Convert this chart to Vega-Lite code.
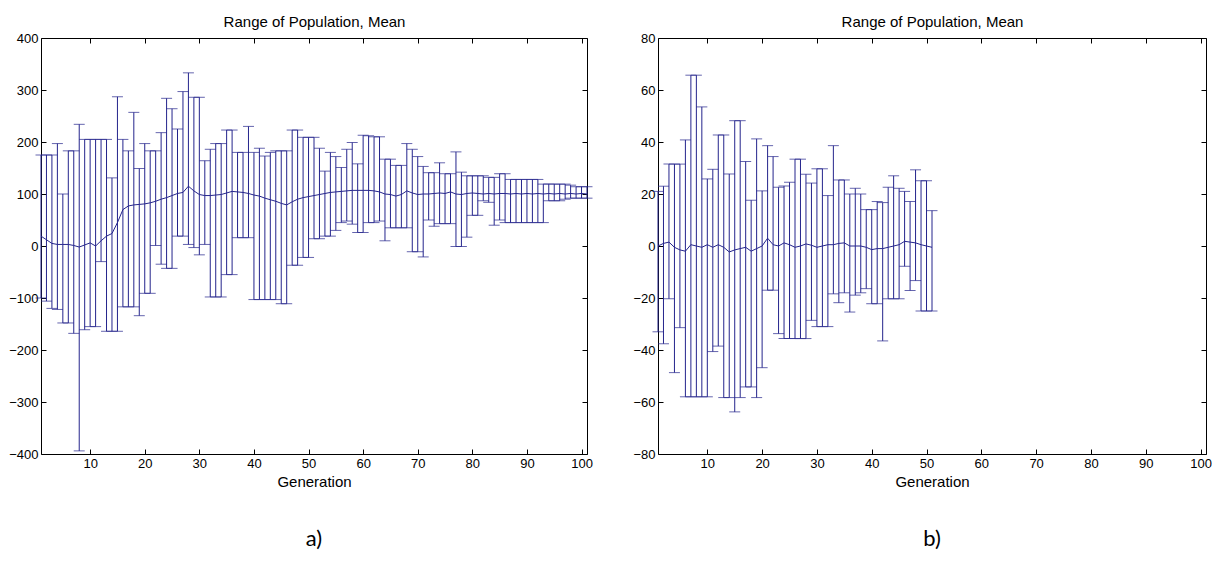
{
  "$schema": "https://vega.github.io/schema/vega-lite/v6.json",
  "background": "white",
  "padding": {"left": 8, "top": 14, "right": 0, "bottom": 5},
  "config": {
    "view": {"stroke": null},
    "axis": {"grid": false, "domainColor": "black", "tickColor": "black", "labelColor": "black", "titleColor": "black", "labelFont": "Liberation Sans", "titleFont": "Liberation Sans", "labelFontSize": 13, "titleFontSize": 15, "titleFontWeight": "normal", "tickSize": -5, "labelPadding": 8, "domainWidth": 1, "tickWidth": 1, "labelAngle": 0},
    "title": {"font": "Lato", "fontSize": 22, "fontWeight": "normal", "color": "black"}
  },
  "datasets": {
    "a": [
      {"g":1,"m":19,"lo":-100,"hi":175},{"g":2,"m":12,"lo":-106,"hi":175},{"g":3,"m":5,"lo":-120,"hi":175},{"g":4,"m":3,"lo":-122,"hi":197},{"g":5,"m":3,"lo":-148,"hi":100},
      {"g":6,"m":3,"lo":-148,"hi":183},{"g":7,"m":1,"lo":-168,"hi":183},{"g":8,"m":-2,"lo":-394,"hi":234},{"g":9,"m":2,"lo":-161,"hi":205},{"g":10,"m":6,"lo":-155,"hi":205},
      {"g":11,"m":0,"lo":-155,"hi":205},{"g":12,"m":10,"lo":-30,"hi":205},{"g":13,"m":19,"lo":-164,"hi":205},{"g":14,"m":24,"lo":-164,"hi":131},{"g":15,"m":45,"lo":-164,"hi":287},
      {"g":16,"m":70,"lo":-117,"hi":205},{"g":17,"m":77,"lo":-117,"hi":183},{"g":18,"m":79,"lo":-117,"hi":257},{"g":19,"m":80,"lo":-134,"hi":149},{"g":20,"m":81,"lo":-91,"hi":197},
      {"g":21,"m":83,"lo":-91,"hi":183},{"g":22,"m":86,"lo":1,"hi":183},{"g":23,"m":90,"lo":-35,"hi":218},{"g":24,"m":93,"lo":-43,"hi":284},{"g":25,"m":97,"lo":-43,"hi":264},
      {"g":26,"m":101,"lo":19,"hi":225},{"g":27,"m":103,"lo":19,"hi":297},{"g":28,"m":115,"lo":3,"hi":333},{"g":29,"m":106,"lo":-3,"hi":286},{"g":30,"m":99,"lo":-17,"hi":286},
      {"g":31,"m":97,"lo":3,"hi":164},{"g":32,"m":97,"lo":-98,"hi":186},{"g":33,"m":98,"lo":-98,"hi":197},{"g":34,"m":99,"lo":-98,"hi":197},{"g":35,"m":102,"lo":-55,"hi":223},
      {"g":36,"m":105,"lo":-55,"hi":223},{"g":37,"m":104,"lo":16,"hi":180},{"g":38,"m":103,"lo":16,"hi":180},{"g":39,"m":101,"lo":16,"hi":230},{"g":40,"m":98,"lo":-103,"hi":180},
      {"g":41,"m":96,"lo":-103,"hi":188},{"g":42,"m":92,"lo":-103,"hi":173},{"g":43,"m":89,"lo":-103,"hi":180},{"g":44,"m":86,"lo":-103,"hi":183},{"g":45,"m":82,"lo":-111,"hi":183},
      {"g":46,"m":79,"lo":-111,"hi":183},{"g":47,"m":85,"lo":-37,"hi":223},{"g":48,"m":90,"lo":-37,"hi":223},{"g":49,"m":93,"lo":-22,"hi":209},{"g":50,"m":95,"lo":-22,"hi":209},
      {"g":51,"m":97,"lo":14,"hi":209},{"g":52,"m":99,"lo":14,"hi":188},{"g":53,"m":101,"lo":19,"hi":144},{"g":54,"m":103,"lo":19,"hi":180},{"g":55,"m":104,"lo":30,"hi":172},
      {"g":56,"m":105,"lo":45,"hi":151},{"g":57,"m":106,"lo":48,"hi":186},{"g":58,"m":107,"lo":42,"hi":199},{"g":59,"m":107,"lo":26,"hi":158},{"g":60,"m":107,"lo":26,"hi":213},
      {"g":61,"m":107,"lo":45,"hi":212},{"g":62,"m":106,"lo":45,"hi":210},{"g":63,"m":104,"lo":48,"hi":210},{"g":64,"m":100,"lo":10,"hi":167},{"g":65,"m":99,"lo":35,"hi":167},
      {"g":66,"m":96,"lo":35,"hi":155},{"g":67,"m":99,"lo":35,"hi":155},{"g":68,"m":106,"lo":35,"hi":197},{"g":69,"m":102,"lo":-11,"hi":186},{"g":70,"m":99,"lo":-11,"hi":172},
      {"g":71,"m":100,"lo":-21,"hi":153},{"g":72,"m":100,"lo":50,"hi":141},{"g":73,"m":101,"lo":38,"hi":141},{"g":74,"m":102,"lo":43,"hi":160},{"g":75,"m":101,"lo":43,"hi":139},
      {"g":76,"m":104,"lo":43,"hi":139},{"g":77,"m":100,"lo":-1,"hi":181},{"g":78,"m":99,"lo":-1,"hi":142},{"g":79,"m":101,"lo":17,"hi":135},{"g":80,"m":102,"lo":59,"hi":135},
      {"g":81,"m":101,"lo":59,"hi":135},{"g":82,"m":100,"lo":87,"hi":135},{"g":83,"m":101,"lo":84,"hi":132},{"g":84,"m":100,"lo":40,"hi":132},{"g":85,"m":101,"lo":50,"hi":139},
      {"g":86,"m":101,"lo":45,"hi":139},{"g":87,"m":100,"lo":45,"hi":128},{"g":88,"m":101,"lo":45,"hi":128},{"g":89,"m":100,"lo":45,"hi":128},{"g":90,"m":101,"lo":45,"hi":128},
      {"g":91,"m":100,"lo":45,"hi":128},{"g":92,"m":101,"lo":45,"hi":128},{"g":93,"m":100,"lo":45,"hi":119},{"g":94,"m":101,"lo":87,"hi":119},{"g":95,"m":100,"lo":87,"hi":119},
      {"g":96,"m":101,"lo":87,"hi":119},{"g":97,"m":100,"lo":90,"hi":119},{"g":98,"m":101,"lo":92,"hi":117},{"g":99,"m":100,"lo":92,"hi":114},{"g":100,"m":101,"lo":92,"hi":114},
      {"g":101,"m":100,"lo":92,"hi":114}
    ],
    "b": [
      {"g":1,"m":0,"lo":-33,"hi":21},{"g":2,"m":1,"lo":-37.6,"hi":23},{"g":3,"m":1.5,"lo":-20.3,"hi":31.5},{"g":4,"m":-0.5,"lo":-48.7,"hi":31.5},{"g":5,"m":-1.5,"lo":-31.4,"hi":31.5},
      {"g":6,"m":-2,"lo":-58,"hi":40.8},{"g":7,"m":0.5,"lo":-58,"hi":65.7},{"g":8,"m":0,"lo":-58,"hi":65.7},{"g":9,"m":-0.5,"lo":-58,"hi":53.5},{"g":10,"m":0.5,"lo":-58,"hi":25.8},
      {"g":11,"m":-0.5,"lo":-40.6,"hi":29.5},{"g":12,"m":0.5,"lo":-38.5,"hi":42.7},{"g":13,"m":-0.5,"lo":-58.3,"hi":42.7},{"g":14,"m":-2.3,"lo":-58.3,"hi":27.7},{"g":15,"m":-1.5,"lo":-63.8,"hi":48.2},
      {"g":16,"m":-1,"lo":-58.3,"hi":48.2},{"g":17,"m":-0.5,"lo":-54.2,"hi":32.5},{"g":18,"m":-2,"lo":-54.2,"hi":17.6},{"g":19,"m":-1,"lo":-58.3,"hi":41.2},{"g":20,"m":0,"lo":-46.8,"hi":21.2},
      {"g":21,"m":3,"lo":-17,"hi":38.6},{"g":22,"m":0.5,"lo":-17,"hi":34.4},{"g":23,"m":0,"lo":-33.7,"hi":22.6},{"g":24,"m":1.2,"lo":-35.6,"hi":23.1},{"g":25,"m":0.5,"lo":-35.6,"hi":24.5},
      {"g":26,"m":-0.5,"lo":-35.6,"hi":33.4},{"g":27,"m":0,"lo":-35.6,"hi":33.4},{"g":28,"m":0.8,"lo":-35.6,"hi":27.6},{"g":29,"m":0.3,"lo":-28.6,"hi":24.2},{"g":30,"m":-0.5,"lo":-31,"hi":29.7},
      {"g":31,"m":0,"lo":-31,"hi":29.7},{"g":32,"m":0.5,"lo":-31,"hi":19.4},{"g":33,"m":0.5,"lo":-18.4,"hi":38.6},{"g":34,"m":1,"lo":-21.8,"hi":25.4},{"g":35,"m":1.2,"lo":-18,"hi":25.4},
      {"g":36,"m":0,"lo":-25.4,"hi":20},{"g":37,"m":0,"lo":-18.9,"hi":22.2},{"g":38,"m":0,"lo":-18,"hi":20},{"g":39,"m":-0.5,"lo":-16.4,"hi":14},{"g":40,"m":-1.4,"lo":-22.2,"hi":14},
      {"g":41,"m":-1,"lo":-22.2,"hi":17.1},{"g":42,"m":-1,"lo":-36.5,"hi":16.7},{"g":43,"m":-0.5,"lo":-20.3,"hi":22.6},{"g":44,"m":0,"lo":-20.3,"hi":27},{"g":45,"m":0.5,"lo":-20.3,"hi":22.2},
      {"g":46,"m":1.8,"lo":-7.8,"hi":21},{"g":47,"m":1.5,"lo":-17.1,"hi":17.1},{"g":48,"m":1.2,"lo":-13.3,"hi":29.3},{"g":49,"m":0.5,"lo":-25,"hi":25.1},{"g":50,"m":0,"lo":-25,"hi":25.1},
      {"g":51,"m":-0.5,"lo":-25,"hi":13.6}
    ]
  },
  "spacing": 39,
  "hconcat": [
    {
      "width": 546, "height": 416,
      "title": {"text": "a)", "orient": "bottom", "offset": 40},
      "data": {"name": "a"},
      "layer": [
        {"mark": {"type": "rule", "color": "#24248c", "strokeWidth": 1},
         "encoding": {
           "x": {"field": "g", "type": "quantitative", "scale": {"domain": [1, 101], "nice": false, "zero": false}, "axis": {"values": [10,20,30,40,50,60,70,80,90,100], "title": "Generation"}},
           "y": {"field": "lo", "type": "quantitative", "scale": {"domain": [-400, 400], "nice": false}, "axis": {"values": [-400,-300,-200,-100,0,100,200,300,400], "title": null}},
           "y2": {"field": "hi"}}},
        {"mark": {"type": "tick", "orient": "horizontal", "size": 11, "thickness": 1, "color": "#24248c"},
         "encoding": {"x": {"field": "g", "type": "quantitative", "axis": null}, "y": {"field": "hi", "type": "quantitative", "axis": null}}},
        {"mark": {"type": "tick", "orient": "horizontal", "size": 11, "thickness": 1, "color": "#24248c"},
         "encoding": {"x": {"field": "g", "type": "quantitative", "axis": null}, "y": {"field": "lo", "type": "quantitative", "axis": null}}},
        {"mark": {"type": "line", "color": "#24248c", "strokeWidth": 1},
         "encoding": {
           "x": {"field": "g", "type": "quantitative", "axis": {"orient": "top", "labels": false, "values": [10,20,30,40,50,60,70,80,90,100], "title": "Range of Population, Mean", "titlePadding": 8}},
           "y": {"field": "m", "type": "quantitative", "axis": {"orient": "right", "labels": false, "values": [-400,-300,-200,-100,0,100,200,300,400], "title": null}}}}
      ],
      "resolve": {"axis": {"x": "independent", "y": "independent"}}
    },
    {
      "width": 548, "height": 416,
      "title": {"text": "b)", "orient": "bottom", "offset": 40},
      "data": {"name": "b"},
      "layer": [
        {"mark": {"type": "rule", "color": "#24248c", "strokeWidth": 1},
         "encoding": {
           "x": {"field": "g", "type": "quantitative", "scale": {"domain": [1, 101], "nice": false, "zero": false}, "axis": {"values": [10,20,30,40,50,60,70,80,90,100], "title": "Generation"}},
           "y": {"field": "lo", "type": "quantitative", "scale": {"domain": [-80, 80], "nice": false}, "axis": {"values": [-80,-60,-40,-20,0,20,40,60,80], "title": null}},
           "y2": {"field": "hi"}}},
        {"mark": {"type": "tick", "orient": "horizontal", "size": 11, "thickness": 1, "color": "#24248c"},
         "encoding": {"x": {"field": "g", "type": "quantitative", "axis": null}, "y": {"field": "hi", "type": "quantitative", "axis": null}}},
        {"mark": {"type": "tick", "orient": "horizontal", "size": 11, "thickness": 1, "color": "#24248c"},
         "encoding": {"x": {"field": "g", "type": "quantitative", "axis": null}, "y": {"field": "lo", "type": "quantitative", "axis": null}}},
        {"mark": {"type": "line", "color": "#24248c", "strokeWidth": 1},
         "encoding": {
           "x": {"field": "g", "type": "quantitative", "axis": {"orient": "top", "labels": false, "values": [10,20,30,40,50,60,70,80,90,100], "title": "Range of Population, Mean", "titlePadding": 8}},
           "y": {"field": "m", "type": "quantitative", "axis": {"orient": "right", "labels": false, "values": [-80,-60,-40,-20,0,20,40,60,80], "title": null}}}}
      ],
      "resolve": {"axis": {"x": "independent", "y": "independent"}}
    }
  ]
}
